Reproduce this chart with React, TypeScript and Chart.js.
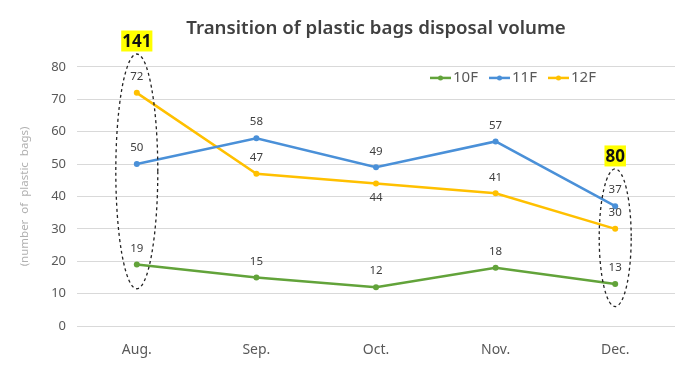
import React, { useEffect, useRef } from "react";
import { Chart, registerables } from "chart.js";

Chart.register(...registerables);

const months = ["Aug.", "Sep.", "Oct.", "Nov.", "Dec."];
const floor10 = [19, 15, 12, 18, 13];
const floor11 = [50, 58, 49, 57, 37];
const floor12 = [72, 47, 44, 41, 30];
const seriesNames = ["10F", "11F", "12F"];
const seriesColors = ["#62a33a", "#4a90d8", "#ffc000"];
const yTicks = [0, 10, 20, 30, 40, 50, 60, 70, 80];
// label below point? (per series, per category)
const labelBelow = [
  [false, false, false, false, false],
  [false, false, false, false, false],
  [false, false, true, false, false],
];
// highlighted totals: category index, text, value range covered by dashed ellipse
const totals = [
  { index: 0, text: "141", top: 84, bottom: 11.5, rx: 21 },
  { index: 4, text: "80", top: 48.5, bottom: 6, rx: 16 },
];

const FONT = "'Noto Sans', 'DejaVu Sans', sans-serif";

const overlay = {
  id: "overlay",
  afterDatasetsDraw(chart: any) {
    const { ctx, scales, chartArea } = chart;
    const xs = scales.x;
    const ys = scales.y;
    ctx.save();
    // data labels
    ctx.font = `11.5px ${FONT}`;
    ctx.fillStyle = "#404040";
    ctx.textAlign = "center";
    ctx.textBaseline = "middle";
    chart.data.datasets.forEach((ds: any, si: number) => {
      ds.data.forEach((v: number, i: number) => {
        const x = xs.getPixelForValue(i);
        const y = ys.getPixelForValue(v);
        const dy = labelBelow[si][i] ? 14 : -16;
        ctx.fillText(String(v), x, y + dy);
      });
    });
    // ellipses & totals
    totals.forEach((t) => {
      const cx = xs.getPixelForValue(t.index);
      const yTop = ys.getPixelForValue(t.top);
      const yBot = ys.getPixelForValue(t.bottom);
      ctx.beginPath();
      ctx.setLineDash([3, 3]);
      ctx.lineWidth = 1.3;
      ctx.strokeStyle = "#222";
      ctx.ellipse(cx, (yTop + yBot) / 2, t.rx, (yBot - yTop) / 2, 0, 0, Math.PI * 2);
      ctx.stroke();
      ctx.setLineDash([]);
      ctx.font = `bold 17px ${FONT}`;
      const w = ctx.measureText(t.text).width;
      const cy = yTop - 13;
      ctx.fillStyle = "#ffff00";
      ctx.fillRect(cx - w / 2 - 1, cy - 10.5, w + 2, 21);
      ctx.fillStyle = "#111";
      ctx.textAlign = "center";
      ctx.textBaseline = "middle";
      ctx.fillText(t.text, cx, cy + 1);
    });
    // legend
    ctx.font = `15px ${FONT}`;
    ctx.textBaseline = "middle";
    ctx.textAlign = "left";
    let lx = chartArea.right - 245;
    const ly = chartArea.top + 11;
    seriesNames.forEach((name, i) => {
      ctx.strokeStyle = seriesColors[i];
      ctx.fillStyle = seriesColors[i];
      ctx.lineWidth = 2.5;
      ctx.beginPath();
      ctx.moveTo(lx, ly);
      ctx.lineTo(lx + 21, ly);
      ctx.stroke();
      ctx.beginPath();
      ctx.arc(lx + 10.5, ly, 2.5, 0, Math.PI * 2);
      ctx.fill();
      ctx.fillStyle = "#595959";
      ctx.fillText(name, lx + 23, ly);
      lx += 59;
    });
    ctx.restore();
  },
};

export default function App() {
  const ref = useRef<HTMLCanvasElement>(null);
  useEffect(() => {
    if (!ref.current) return;
    const data = [floor10, floor11, floor12];
    const chart = new Chart(ref.current, {
      type: "line",
      data: {
        labels: months,
        datasets: seriesNames.map((n, i) => ({
          label: n,
          data: data[i],
          borderColor: seriesColors[i],
          backgroundColor: seriesColors[i],
          borderWidth: 2.5,
          pointRadius: 3,
          pointBorderWidth: 0,
          tension: 0,
        })),
      },
      options: {
        animation: false,
        responsive: false,
        layout: { padding: { left: 0, right: 25, top: 0, bottom: 0 } },
        plugins: {
          legend: { display: false },
          tooltip: { enabled: false },
          title: {
            display: true,
            text: "Transition of plastic bags disposal volume",
            fullSize: false,
            color: "#404040",
            font: { family: FONT, size: 18.7, weight: "600" },
            padding: { top: 17, bottom: 27.5 },
          },
        },
        scales: {
          x: {
            offset: true,
            grid: { display: false, drawTicks: false },
            border: { display: false },
            ticks: { color: "#595959", font: { family: FONT, size: 14 }, padding: 16 },
            afterFit: (s: any) => {
              s.height = 64;
            },
          },
          y: {
            min: 0,
            max: 80,
            afterBuildTicks: (s: any) => {
              s.ticks = yTicks.map((v) => ({ value: v }));
            },
            grid: { color: "#d9d9d9", drawTicks: false, lineWidth: 1 },
            border: { display: false },
            ticks: { color: "#595959", font: { family: FONT, size: 13 }, padding: 11 },
            title: {
              display: true,
              text: "(number  of  plastic  bags)",
              color: "#b0b0b0",
              font: { family: FONT, size: 11.5 },
              padding: { top: 18, bottom: 0 },
            },
            afterFit: (s: any) => {
              s.width = 77;
            },
          },
        },
      },
      plugins: [overlay],
    });
    return () => chart.destroy();
  }, []);
  return (
    <div style={{ position: "fixed", left: 0, top: 0, width: 700, height: 390, background: "#fff" }}>
      <canvas ref={ref} width={700} height={390} style={{ width: 700, height: 390 }} />
    </div>
  );
}
